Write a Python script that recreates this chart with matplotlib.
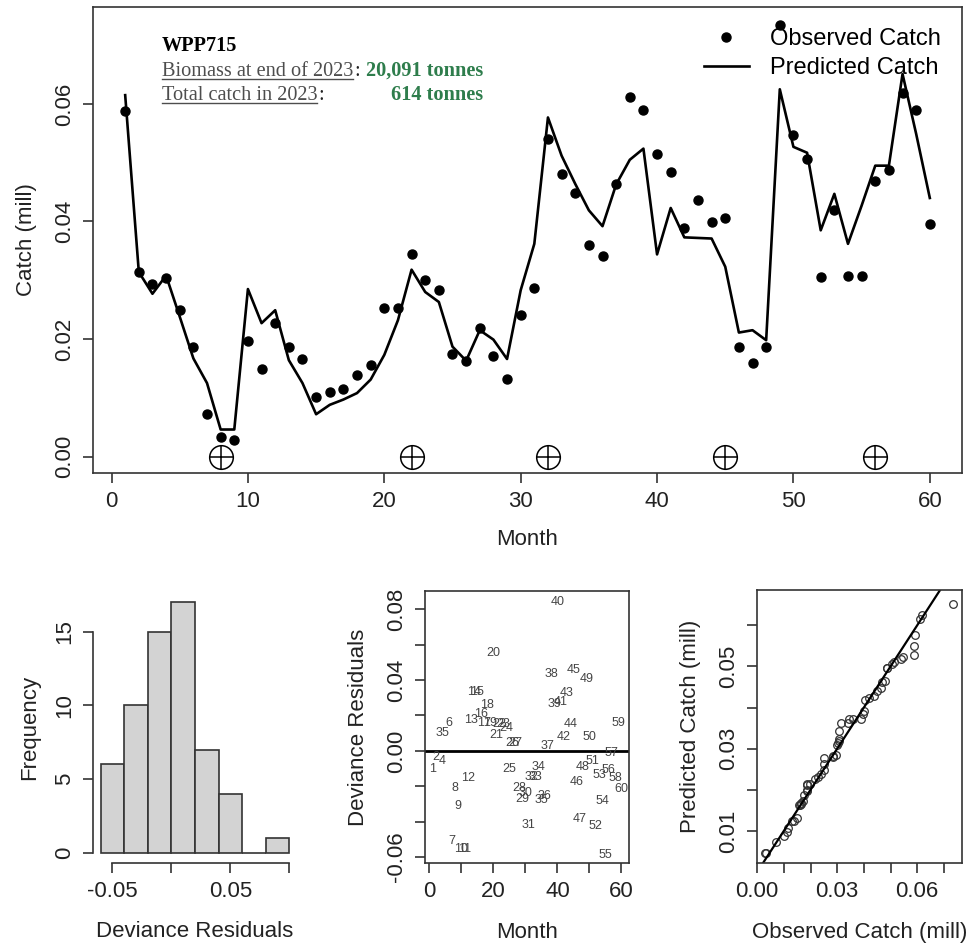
import matplotlib.pyplot as plt
import numpy as np
from matplotlib.lines import Line2D

plt.rcParams['font.family'] = ['Liberation Sans', 'DejaVu Sans']

W, H = 972, 943

month = np.arange(1, 61)

obs_catch = [0.0588, 0.0314, 0.0294, 0.0304, 0.0250, 0.0187, 0.0072, 0.0033, 0.0028, 0.0197,
             0.0149, 0.0228, 0.0186, 0.0166, 0.0102, 0.0110, 0.0115, 0.0139, 0.0155, 0.0252,
             0.0252, 0.0345, 0.0300, 0.0283, 0.0175, 0.0163, 0.0218, 0.0171, 0.0132, 0.0241,
             0.0286, 0.0541, 0.0480, 0.0448, 0.0360, 0.0341, 0.0463, 0.0611, 0.0589, 0.0514,
             0.0485, 0.0389, 0.0437, 0.0399, 0.0406, 0.0186, 0.0160, 0.0186, 0.0734, 0.0547,
             0.0506, 0.0305, 0.0420, 0.0308, 0.0308, 0.0469, 0.0488, 0.0619, 0.0590, 0.0396]

pred_catch = [0.0615, 0.0314, 0.0277, 0.0308, 0.0238, 0.0167, 0.0125, 0.0046, 0.0046, 0.0285,
              0.0227, 0.0249, 0.0164, 0.0125, 0.0072, 0.0088, 0.0097, 0.0108, 0.0131, 0.0173,
              0.0232, 0.0318, 0.0280, 0.0263, 0.0187, 0.0163, 0.0215, 0.0199, 0.0166, 0.0283,
              0.0362, 0.0577, 0.0512, 0.0464, 0.0419, 0.0392, 0.0463, 0.0505, 0.0524, 0.0344,
              0.0423, 0.0373, 0.0372, 0.0371, 0.0323, 0.0211, 0.0215, 0.0198, 0.0625, 0.0527,
              0.0517, 0.0385, 0.0447, 0.0362, 0.0427, 0.0495, 0.0495, 0.0651, 0.0549, 0.0440]

dev_resid = [-0.0104, -0.0032, 0.0100, -0.0055, 0.0100, 0.0156, -0.0510, -0.0212, -0.0310, -0.0552,
             -0.0552, -0.0151, 0.0176, 0.0330, 0.0330, 0.0210, 0.0156, 0.0261, 0.0156, 0.0553,
             0.0087, 0.0150, 0.0150, 0.0128, -0.0102, 0.0047, 0.0047, -0.0212, -0.0274, -0.0240,
             -0.0419, -0.0150, -0.0150, -0.0089, -0.0278, -0.0253, 0.0028, 0.0436, 0.0266, 0.0840,
             0.0279, 0.0081, 0.0326, 0.0151, 0.0455, -0.0174, -0.0382, -0.0093, 0.0408, 0.0081,
             -0.0055, -0.0423, -0.0136, -0.0283, -0.0589, -0.0108, -0.0014, -0.0155, 0.0156, -0.0218]

# months flagged on the time series
flag_months = [8, 22, 32, 45, 56]

area_name = 'WPP715'
biomass_text = '20,091 tonnes'
catch_text = '614 tonnes'

ink = '#222222'
green = '#2e7d4c'


def axes_rect(x0, y0, x1, y1):
    # pixel box -> figure fraction
    return [x0 / W, 1 - y1 / H, (x1 - x0) / W, (y1 - y0) / H]


def r_style(ax, fs=16):
    ax.tick_params(direction='out', length=7, width=1.1, colors=ink, labelsize=fs, pad=6)
    ax.tick_params(axis='y', labelrotation=90)
    for lab in ax.get_yticklabels():
        lab.set_va('center')
    for s in ax.spines.values():
        s.set_color('#333333')
        s.set_linewidth(1.2)


fig = plt.figure(figsize=(W / 100, H / 100), dpi=100)

# ---- catch time series ----
ax = fig.add_axes(axes_rect(93, 7, 962, 473))
ax.plot(month, obs_catch, 'o', color='black', ms=6.5, label='Observed Catch')
ax.plot(month, pred_catch, '-', color='black', lw=1.9, label='Predicted Catch')
ax.plot(flag_months, np.zeros(len(flag_months)), 'o', mfc='none', mec='black', ms=17, mew=1.1)
ax.plot(flag_months, np.zeros(len(flag_months)), '+', color='black', ms=17, mew=1.1)
ax.set_xlim(-1.36, 62.36)
ax.set_ylim(-0.0028, 0.0765)
ax.set_xticks(range(0, 61, 10))
ax.set_yticks([0, 0.02, 0.04, 0.06])
ax.set_yticklabels(['0.00', '0.02', '0.04', '0.06'])
r_style(ax)
ax.set_xlabel('Month', fontsize=16, color=ink, labelpad=12)
ax.set_ylabel('Catch (mill)', fontsize=16, color=ink, labelpad=12)
ax.legend(loc='upper right', frameon=False, fontsize=17, handlelength=1.9,
          handletextpad=0.9, labelspacing=0.3, borderaxespad=0.5,
          bbox_to_anchor=(1.0, 1.0))

# ---- histogram of deviance residuals ----
ax1 = fig.add_axes(axes_rect(93, 592.3, 297, 862.7))
ax1.hist(dev_resid, bins=np.linspace(-0.06, 0.1, 9), color='#d3d3d3',
         edgecolor='#333333', linewidth=1.2)
ax1.set_xlim(-0.0664, 0.1064)
ax1.set_ylim(-0.68, 17.68)
ax1.spines['top'].set_visible(False)
ax1.spines['right'].set_visible(False)
ax1.spines['left'].set_bounds(0, 15)
ax1.spines['bottom'].set_bounds(-0.05, 0.1)
ax1.set_xticks([-0.05, 0, 0.05, 0.1])
ax1.set_xticklabels(['-0.05', '', '0.05', ''])
ax1.set_yticks([0, 5, 10, 15])
r_style(ax1)
ax1.set_xlabel('Deviance Residuals', fontsize=16, color=ink, labelpad=14)
ax1.set_ylabel('Frequency', fontsize=16, color=ink, labelpad=10)

# ---- residuals by month ----
ax2 = fig.add_axes(axes_rect(425, 590.7, 629, 863.3))
for m, r in zip(month, dev_resid):
    ax2.text(m, r, str(m), ha='center', va='center', fontsize=9, color='#444444')
ax2.axhline(0, color='black', lw=2.0)
ax2.set_xlim(-1.36, 62.36)
ax2.set_ylim(-0.0635, 0.0905)
ax2.set_xticks(range(0, 61, 10))
ax2.set_xticklabels(['0', '', '20', '', '40', '', '60'])
ax2.set_yticks(np.arange(-0.06, 0.081, 0.02))
ax2.set_yticklabels(['-0.06', '', '', '0.00', '', '0.04', '', '0.08'])
r_style(ax2)
ax2.set_xlabel('Month', fontsize=16, color=ink, labelpad=14)
ax2.set_ylabel('Deviance Residuals', fontsize=16, color=ink, labelpad=12)

# ---- observed vs predicted quantiles ----
ax3 = fig.add_axes(axes_rect(756.7, 590, 961.7, 863.3))
ax3.plot(np.sort(obs_catch), np.sort(pred_catch), 'o', mfc='none', mec='#333333',
         ms=5.5, mew=0.9)
ax3.axline((0, 0), slope=1, color='black', lw=1.6)
ax3.set_xlim(-0.0002, 0.0767)
ax3.set_ylim(0.0021, 0.0686)
ax3.set_xticks(np.arange(0, 0.071, 0.01))
ax3.set_xticklabels(['0.00', '', '', '0.03', '', '', '0.06', ''])
ax3.set_yticks(np.arange(0.01, 0.061, 0.01))
ax3.set_yticklabels(['0.01', '', '0.03', '', '0.05', ''])
r_style(ax3)
ax3.set_xlabel('Observed Catch (mill)', fontsize=16, color=ink, labelpad=14)
ax3.set_ylabel('Predicted Catch (mill)', fontsize=16, color=ink, labelpad=12)

# ---- summary text block ----
serif = ['Liberation Serif', 'DejaVu Serif']
fs_txt = 14.6
x_left, x_right = 161.5, 483.5
fig.text(x_left / W, 1 - 51 / H, area_name, family=serif, weight='bold',
         fontsize=fs_txt, color='black', va='baseline')
rows = [(76, 'Biomass at end of 2023', biomass_text),
        (100, 'Total catch in 2023', catch_text)]
label_txts = []
for yb, lab, val in rows:
    t = fig.text(x_left / W, 1 - yb / H, lab, family=serif, fontsize=fs_txt,
                 color='#4d4d4d', va='baseline')
    fig.text(x_right / W, 1 - yb / H, val, family=serif, weight='bold',
             fontsize=fs_txt, color=green, va='baseline', ha='right')
    label_txts.append((yb, t))

fig.canvas.draw()
rend = fig.canvas.get_renderer()
for yb, t in label_txts:
    bb = t.get_window_extent(rend)
    x0, x1 = bb.x0 / W, bb.x1 / W
    yu = 1 - (yb + 2.5) / H
    fig.add_artist(Line2D([x0, x1], [yu, yu], color='#4d4d4d', lw=1.0))
    fig.text(x1 + 1 / W, 1 - yb / H, ':', family=serif, fontsize=fs_txt,
             color=ink, va='baseline')

fig.savefig('out.png', dpi=100)
